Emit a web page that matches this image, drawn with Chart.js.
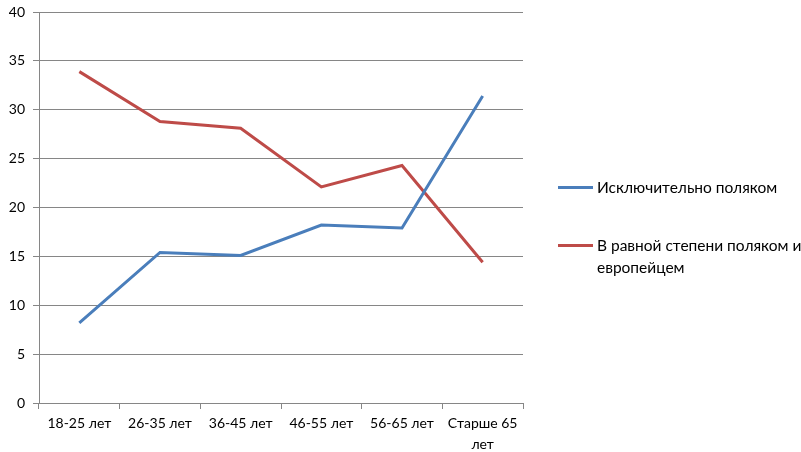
<!DOCTYPE html>
<html><head><meta charset="utf-8">
<script src="https://cdn.jsdelivr.net/npm/chart.js@4.4.0/dist/chart.umd.min.js"></script>
<style>
html,body{margin:0;padding:0;background:#fff;}
#wrap{position:relative;width:801px;height:452px;}
canvas{position:absolute;left:0;top:0;}
.leg{position:absolute;font-family:Lato,"Open Sans",sans-serif;font-size:15.5px;color:#000;line-height:22px;}
.leg .sw{position:absolute;left:0;top:10px;width:35px;height:3px;}
.leg .tx{position:absolute;left:39px;top:0;white-space:nowrap;}
</style></head>
<body><div id="wrap"><canvas id="c" width="801" height="452"></canvas>
<div class="leg" style="left:558px;top:176px;"><div class="sw" style="background:#4A7EBB"></div><div class="tx">Исключительно поляком</div></div>
<div class="leg" style="left:558px;top:234px;"><div class="sw" style="background:#BE4B48"></div><div class="tx">В равной степени поляком и<br>европейцем</div></div>
</div>
<script>
const categories = ["18-25 лет","26-35 лет","36-45 лет","46-55 лет","56-65 лет",["Старше 65","лет"]];
const seriesNames = ["Исключительно поляком","В равной степени поляком и европейцем"];
const exclusivelyPolish = [8.2, 15.4, 15.1, 18.2, 17.9, 31.4];
const polishAndEuropean = [33.9, 28.8, 28.1, 22.1, 24.3, 14.4];
const yTicks = [0,5,10,15,20,25,30,35,40];

const font = {family:"Lato, 'Open Sans', sans-serif", size:14};
new Chart(document.getElementById('c'), {
  type:'line',
  data:{labels:categories, datasets:[
    {label:seriesNames[0], data:exclusivelyPolish, borderColor:'#4A7EBB', borderWidth:3, pointRadius:0, tension:0, fill:false},
    {label:seriesNames[1], data:polishAndEuropean, borderColor:'#BE4B48', borderWidth:3, pointRadius:0, tension:0, fill:false}
  ]},
  options:{
    responsive:false, animation:false, devicePixelRatio:1,
    layout:{padding:{top:12,right:278,left:0,bottom:0}},
    plugins:{legend:{display:false}, tooltip:{enabled:false}},
    scales:{
      x:{offset:true,
        grid:{offset:true, drawOnChartArea:false, color:'#868686', tickLength:6},
        border:{color:'#868686'},
        ticks:{font:{...font, lineHeight:1.5}, color:'#000', padding:4, maxRotation:0, autoSkip:false},
        afterFit(s){s.height=49;}
      },
      y:{min:0,max:40,
        afterBuildTicks(s){s.ticks=yTicks.map(v=>({value:v}));},
        grid:{color:'#868686', tickLength:6},
        border:{color:'#868686'},
        ticks:{font, color:'#000', padding:8},
        afterFit(s){s.width=39; s.paddingTop=0; s.paddingBottom=0;}
      }
    }
  }
});
</script></body></html>
